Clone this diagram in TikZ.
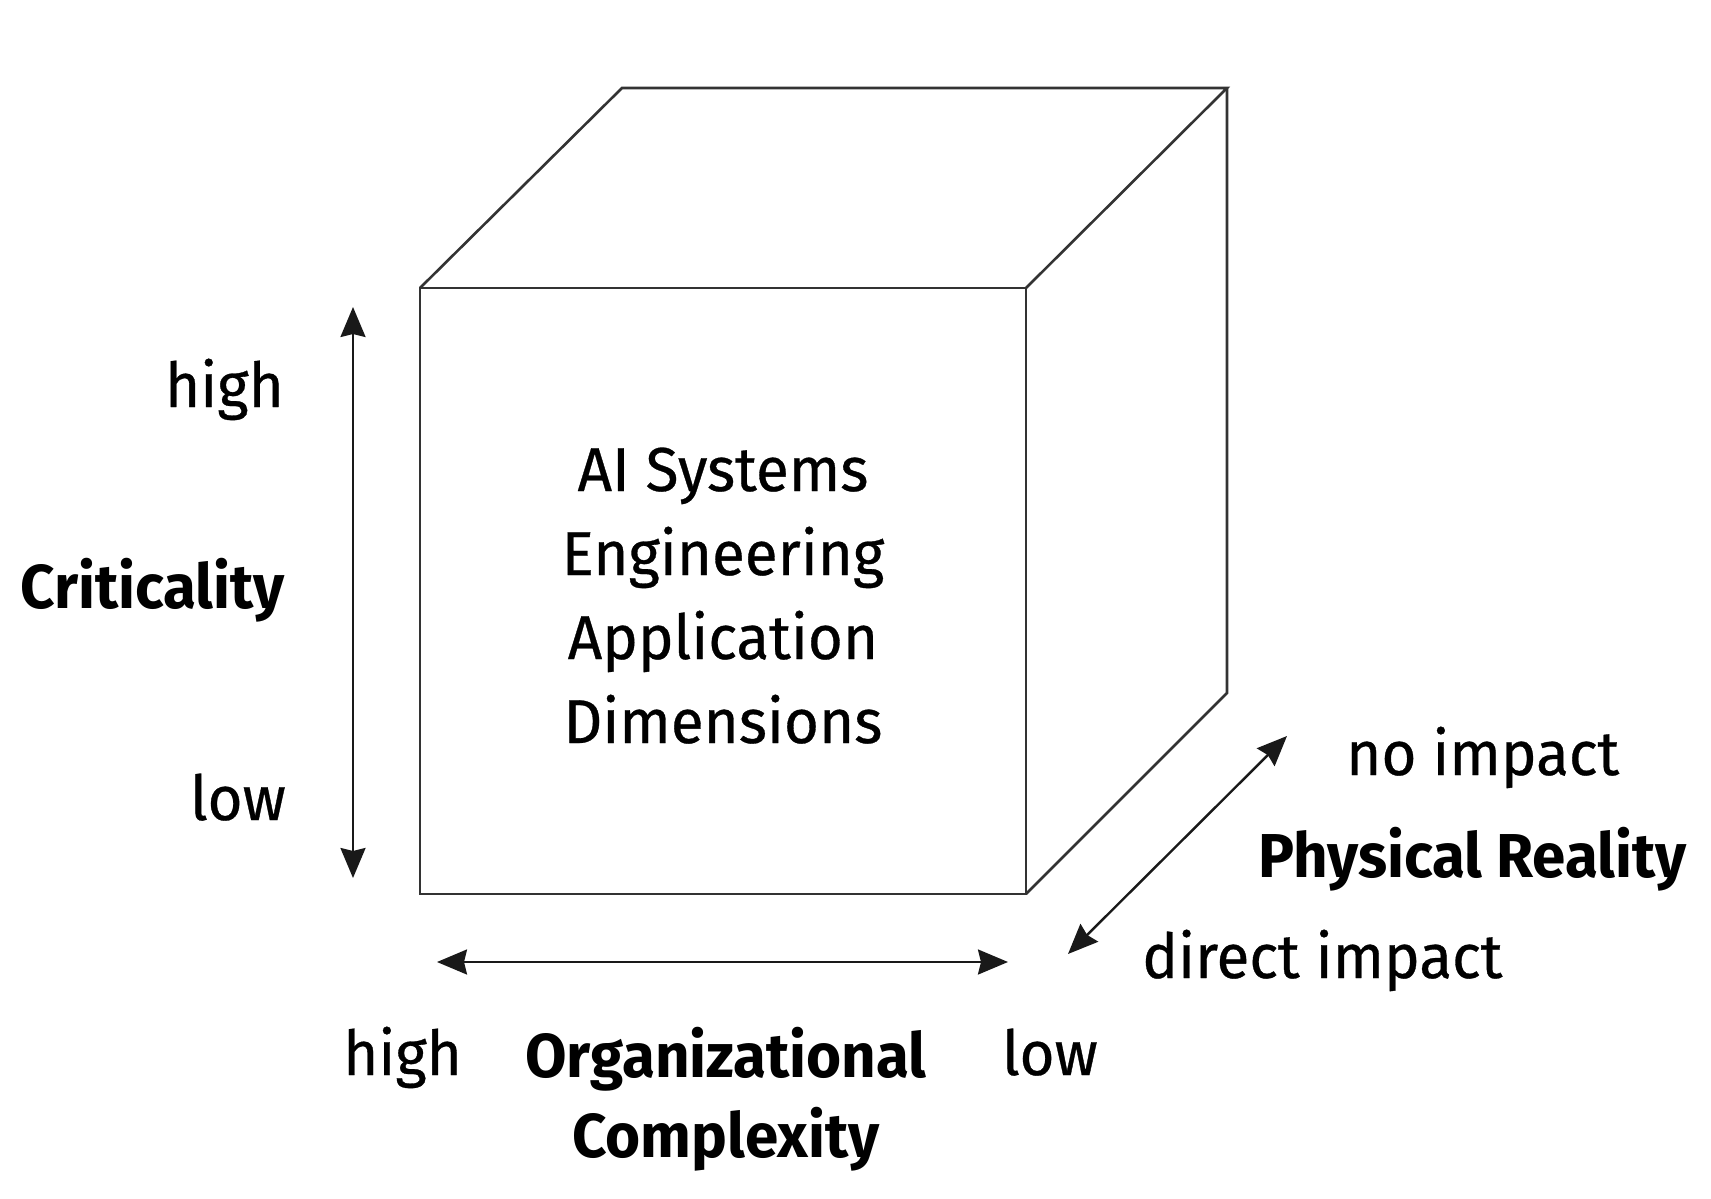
\documentclass[tikz,border=0pt]{standalone}
\usepackage{fontspec}
\setmainfont{Fira Sans}[FakeStretch=0.97,UprightFeatures={FakeBold=0.5}]
\usetikzlibrary{arrows.meta}
\begin{document}
\begin{tikzpicture}[x=1pt,y=-1pt,
  edge/.style={line width=2.6pt,draw=black!80,line join=miter},
  axis/.style={line width=2.4pt,draw=black!90,{Stealth[length=30pt,width=25pt,inset=3pt]}-{Stealth[length=30pt,width=25pt,inset=3pt]}},
  lbl/.style={inner sep=0pt,font=\fontsize{62}{80}\selectfont,text=black},
  blbl/.style={inner sep=0pt,font=\fontsize{62}{80}\selectfont\bfseries,text=black}]
\useasboundingbox (0,0) rectangle (1711,1199);
% cube corners
\coordinate (ftl) at (420,288);
\coordinate (ftr) at (1026,288);
\coordinate (fbr) at (1026,894);
\coordinate (fbl) at (420,894);
\coordinate (btl) at (622,88);
\coordinate (btr) at (1227,88);
\coordinate (bbr) at (1227,693);
\draw[edge] (ftl) -- (ftr) -- (fbr) -- (fbl) -- cycle;
\draw[edge] (ftl) -- (btl) -- (btr) -- (ftr);
\draw[edge] (btr) -- (bbr) -- (fbr);
% axes end points
\coordinate (vtop) at (353,307);
\coordinate (vbot) at (353,878);
\coordinate (hleft) at (437,962);
\coordinate (hright) at (1008,962);
\coordinate (dlow) at (1068,954);
\coordinate (dhigh) at (1287,736);
\draw[axis] (vtop) -- (vbot);
\draw[axis] (hleft) -- (hright);
\draw[axis] (dlow) -- (dhigh);
% centre text
\node[lbl,anchor=base] (t1) at (723,491) {AI Systems};
\node[lbl,anchor=base] (t2) at (723,575) {Engineering};
\node[lbl,anchor=base] (t3) at (723,659) {Application};
\node[lbl,anchor=base] (t4) at (723,743) {Dimensions};
% criticality
\node[lbl,anchor=base east] (chigh) at (284,407) {high};
\node[blbl,anchor=base east] (crit) at (285,608) {Criticality};
\node[lbl,anchor=base east] (clow) at (286,820) {low};
% organizational complexity
\node[lbl,anchor=base west] (ohigh) at (343,1075) {high};
\node[blbl,anchor=base] (org) at (726,1077) {Organizational};
\node[blbl,anchor=base] (comp) at (726,1157) {Complexity};
\node[lbl,anchor=base west] (olow) at (1002,1075) {low};
% physical reality
\node[lbl,anchor=base west] (pno) at (1346,775) {no impact};
\node[blbl,anchor=base east] (phys) at (1687,877) {Physical Reality};
\node[lbl,anchor=base west] (pdir) at (1142,978) {direct impact};
\end{tikzpicture}
\end{document}
